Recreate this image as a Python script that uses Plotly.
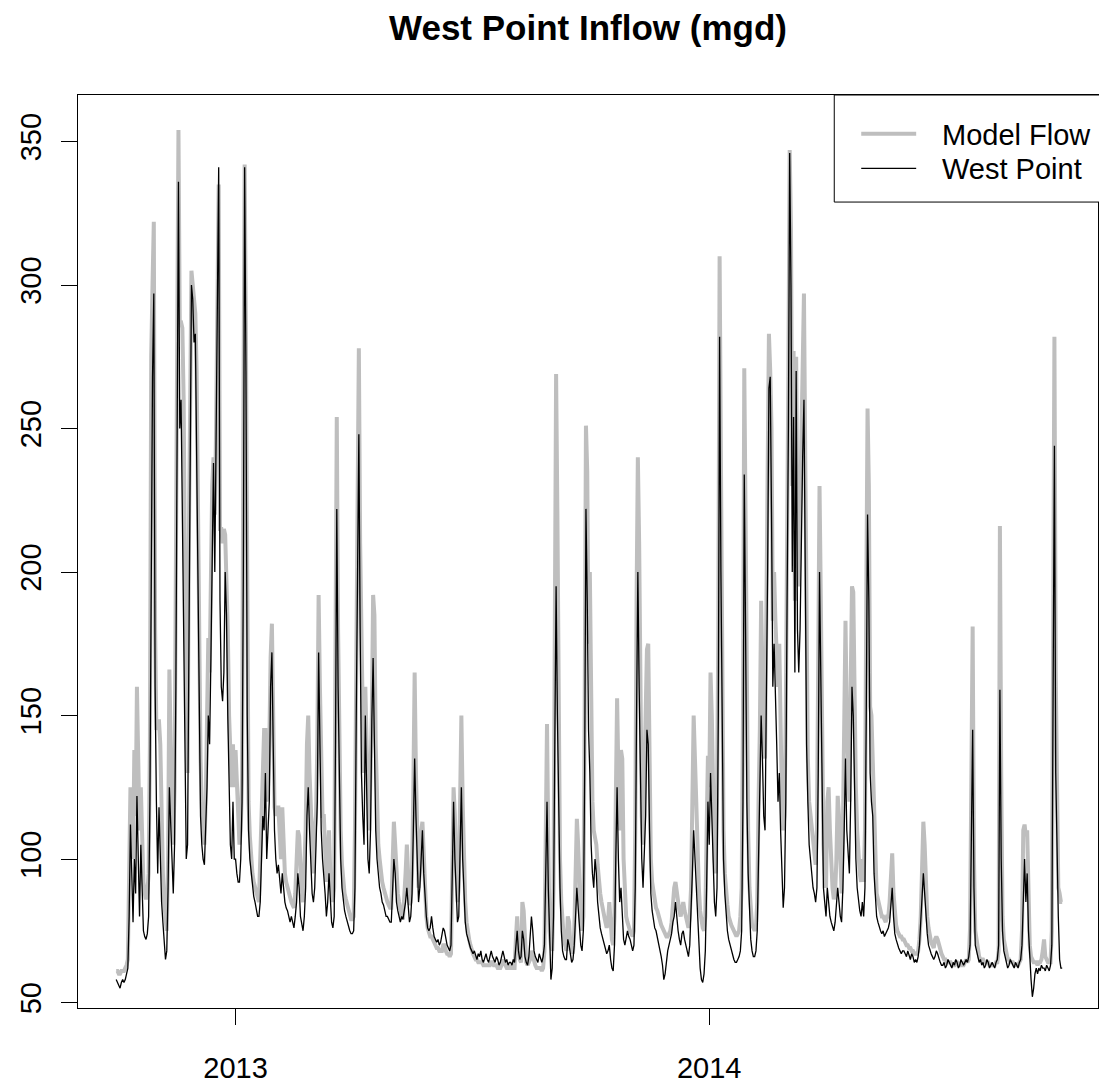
import pandas as pd
import plotly.graph_objects as go

# ---------------- data (daily, water years 2013-2014) ----------------
start_date = "2012-10-01"

model_flow = [
    # Oct 2012
    61,61,60,60,61,61,61,62,63,65, 95,125,110,100,138,115,160,130,110,125, 105,92,88,86,88,95,140,275,300,322, 180,
    # Nov 2012
    145,148,148,140,110,95,85,78,75,100, 166,140,118,105,125,190,275,354,287,287, 285,260,200,150,130,210,280,305,300,295,
    # Dec 2012
    290,270,220,170,135,118,110,105,120,145, 177,165,200,230,240,220,250,300,335,215, 215,210,215,213,200,180,150,135,125,140, 125,
    # Jan 2013
    138,125,110,105,110,128,250,342,280,170, 120,108,100,95,92,90,88,86,85,100, 120,130,145,145,120,125,140,170,182,150, 118,
    # Feb 2013
    115,118,118,110,100,118,100,95,92,90, 88,86,85,84,83,88,100,110,108,95, 88,85,95,110,140,150,130,115,
    # Mar 2013
    100,95,110,115,140,192,160,125,115,115, 100,92,100,110,95,88,85,90,170,254, 180,130,110,98,92,88,86,84,82,80, 79,
    # Apr 2013
    79,80,110,185,205,278,210,165,150,130, 160,140,120,110,130,150,192,185,140,120, 105,100,95,92,90,88,86,85,84,83,
    # May 2013
    83,100,113,105,92,88,85,82,80,79, 85,95,105,92,84,85,95,125,165,130, 105,90,95,110,113,100,88,80,76,74, 73,
    # Jun 2013
    73,72,71,70,69,69,68,68,68,70, 70,68,67,67,66,67,100,125,115,95, 85,90,135,150,120,95,85,78,74,72,
    # Jul 2013
    70,68,67,66,65,65,64,64,64,64, 63,63,63,63,63,63,64,64,63,63, 63,62,62,62,63,65,64,63,62,62, 62,
    # Aug 2013
    63,62,62,62,72,80,70,65,64,85, 82,68,64,63,64,65,68,66,64,63, 62,62,62,62,61,62,68,110,147,105, 75,
    # Sep 2013
    70,68,90,200,269,220,130,100,85,78, 72,70,68,80,78,70,68,67,75,100, 114,105,85,78,75,80,150,251,235,175,
    # Oct 2013
    200,140,120,110,108,105,98,92,88,85, 82,80,78,76,78,85,75,72,70,80, 120,156,130,110,138,135,100,85,80,78, 76,
    # Nov 2013
    75,74,73,75,110,190,240,210,140,115, 105,130,140,173,175,140,100,92,88,85, 83,82,80,78,77,76,75,74,73,73,
    # Dec 2013
    74,75,78,85,90,92,88,84,82,80, 82,85,82,80,78,76,80,90,120,150, 135,115,100,90,82,78,76,75,80,110, 136,
    # Jan 2014
    125,165,150,120,100,95,120,180,310,240, 150,110,95,88,84,80,78,77,76,75, 74,73,74,75,80,90,150,271,220,140, 110,
    # Feb 2014
    90,80,77,76,75,76,85,120,145,190, 160,140,135,180,240,283,270,250,183,200, 183,170,160,175,140,120,110,115,
    # Mar 2014
    150,200,270,347,320,230,277,190,275,210, 195,220,250,280,297,240,170,135,120,115, 110,105,100,98,110,160,230,190,125,105, 95,
    # Apr 2014
    90,120,125,110,95,90,86,88,100,122, 115,95,88,110,150,183,150,130,120,160, 195,193,150,125,110,100,95,92,100,92,
    # May 2014
    110,190,257,230,153,150,135,110,95,88, 86,84,82,80,80,79,78,80,80,85, 95,102,88,80,77,75,74,73,73,72, 72,
    # Jun 2014
    71,70,70,69,69,68,68,67,67,67, 68,72,80,95,113,105,90,80,76,73, 71,70,69,72,73,72,70,68,67,66,
    # Jul 2014
    65,65,64,64,64,64,63,63,63,64, 64,63,63,64,63,63,64,65,64,65, 76,120,181,100,75,72,68,66,65,65, 65,
    # Aug 2014
    64,64,64,64,63,63,63,63,63,64, 64,68,216,130,80,72,70,67,65,65, 64,64,64,63,63,63,63,64,65,75, 110,
    # Sep 2014
    112,108,110,85,70,66,65,64,64,64, 63,64,64,65,68,72,66,65,64,64, 64,75,190,282,165,130,90,88,85,85,
]

west_point = [
    # Oct 2012
    58,57,56,55,57,58,57,58,60,62, 80,112,95,78,100,88,122,95,80,105, 90,75,73,72,74,80,120,200,268,297, 160,
    # Nov 2012
    120,95,118,100,85,78,72,65,68,90, 125,110,95,88,105,160,250,336,250,260, 220,175,130,100,105,160,240,300,295,280,
    # Dec 2012
    283,240,180,140,115,105,100,98,110,125, 150,140,170,215,238,200,240,280,341,190, 160,155,165,200,185,150,120,105,100,120, 100,
    # Jan 2013
    100,95,92,92,100,120,200,341,270,150, 110,100,95,90,87,85,82,80,80,85, 100,115,110,130,100,110,120,160,172,140, 110,
    # Feb 2013
    100,95,98,92,88,95,88,85,83,82, 80,78,80,78,76,80,85,95,90,80, 78,75,80,90,115,125,110,95,
    # Mar 2013
    88,85,90,105,120,172,140,110,100,95, 88,80,85,95,85,78,76,80,140,222, 160,120,100,90,85,82,80,78,76,75, 74,
    # Apr 2013
    74,75,90,150,200,248,180,130,115,105, 150,120,100,95,110,148,170,140,110,100, 95,90,88,85,84,82,80,80,79,78,
    # May 2013
    78,90,100,95,85,82,80,78,80,79, 82,85,90,82,78,80,88,110,135,115, 95,85,90,100,110,95,85,80,76,75, 76,
    # Jun 2013
    80,76,73,72,71,72,70,71,73,76, 75,72,70,69,68,70,95,120,100,85, 78,80,110,125,100,85,78,74,72,70,
    # Jul 2013
    69,68,67,68,66,65,67,66,68,65, 64,66,67,65,64,66,68,66,65,64, 66,65,63,64,66,68,66,64,65,63, 64,
    # Aug 2013
    64,63,65,64,70,75,68,65,66,75, 72,66,64,63,66,72,80,75,68,66, 65,64,67,65,64,66,70,95,120,90, 70,
    # Sep 2013
    58,62,80,140,195,150,110,90,75,68, 66,65,65,72,70,66,64,65,70,80, 90,83,74,70,68,75,130,222,190,145,
    # Oct 2013
    130,105,95,90,100,95,85,80,76,74, 72,70,68,67,68,70,65,62,61,70, 100,125,100,85,90,80,72,70,72,75, 73,
    # Nov 2013
    72,70,68,70,90,150,200,160,120,100, 90,100,115,145,140,110,88,82,78,76, 75,73,70,68,66,63,58,60,65,68,
    # Dec 2013
    70,72,74,78,80,85,78,75,72,70, 74,75,72,70,68,66,70,80,95,110, 100,90,80,70,62,58,57,60,68,90, 120,
    # Jan 2014
    105,130,115,95,85,80,90,150,282,200, 130,100,88,80,75,72,70,68,66,65, 64,64,65,66,68,75,120,234,180,120, 95,
    # Feb 2014
    80,72,68,66,66,68,75,100,120,150, 135,115,110,150,200,264,268,220,160,175, 160,140,120,130,110,95,83,90,
    # Mar 2014
    120,190,250,346,300,200,254,165,270,180, 165,180,220,240,260,200,140,120,105,100, 95,90,88,85,90,130,200,160,110,90, 85,
    # Apr 2014
    80,90,85,80,78,76,75,78,85,90, 85,80,78,90,110,135,110,100,95,120, 160,150,120,100,90,85,82,80,85,80,
    # May 2014
    90,150,220,190,130,120,115,95,85,80, 78,76,75,74,75,73,74,75,76,78, 85,90,80,74,72,70,69,68,67,68, 68,
    # Jun 2014
    67,66,68,66,65,67,66,64,65,64, 66,70,78,85,95,88,80,74,70,68, 67,66,65,66,68,67,65,64,63,63,
    # Jul 2014
    64,62,63,65,64,63,62,64,63,65, 64,62,63,65,64,63,64,65,64,66, 70,100,145,90,70,68,66,64,65,63, 64,
    # Aug 2014
    62,63,65,64,62,63,64,63,62,64, 65,70,159,100,75,68,66,64,62,63, 65,64,63,62,64,63,62,64,65,70, 90,
    # Sep 2014
    100,85,95,75,65,58,52,55,60,62, 60,62,61,63,62,62,61,63,62,61, 63,70,160,244,130,100,80,65,62,62,
]

year_ticks = ["2013-01-01", "2014-01-01"]
year_labels = ["2013", "2014"]
flow_ticks = [50, 100, 150, 200, 250, 300, 350]
series_names = ["Model Flow", "West Point"]
series_colors = ["#BEBEBE", "black"]
series_widths = [4, 1.3]

# ---------------- figure ----------------
W, H = 1099, 1084
ML, MR, MT, MB = 78, 0, 95, 68
PW, PH = W - ML - MR, H - MT - MB

def px_x(x):
    return (x - ML) / PW

def px_y(y):
    return (H - MB - y) / PH

dates_model = pd.date_range(start_date, periods=len(model_flow), freq="D")
dates_wp = pd.date_range(start_date, periods=len(west_point), freq="D")

fig = go.Figure()
fig.add_trace(go.Scatter(x=dates_model, y=model_flow, mode="lines", name=series_names[0],
                         line=dict(color=series_colors[0], width=series_widths[0])))
fig.add_trace(go.Scatter(x=dates_wp, y=west_point, mode="lines", name=series_names[1],
                         line=dict(color=series_colors[1], width=series_widths[1])))

axis_common = dict(showline=True, linecolor="black", linewidth=1, mirror=True,
                   ticks="outside", ticklen=16, tickwidth=1, tickcolor="black",
                   showgrid=False, zeroline=False,
                   tickfont=dict(size=29, color="black"))

# legend box drawn in R style (box, line samples, labels)
shapes = [dict(type="rect", xref="paper", yref="paper",
               x0=px_x(835), x1=px_x(1110), y0=px_y(203), y1=px_y(95),
               line=dict(color="black", width=1), fillcolor="white", layer="above")]
annotations = []
for k, (nm, col, wd) in enumerate(zip(series_names, series_colors, series_widths)):
    yy = 134 + 35 * k
    shapes.append(dict(type="line", xref="paper", yref="paper",
                       x0=px_x(862), x1=px_x(917), y0=px_y(yy), y1=px_y(yy),
                       line=dict(color=col, width=wd), layer="above"))
    annotations.append(dict(text=nm, xref="paper", yref="paper", x=px_x(941), y=px_y(yy + 1),
                            xanchor="left", yanchor="middle", showarrow=False,
                            font=dict(size=29, color="black")))

fig.update_layout(
    width=W, height=H,
    margin=dict(l=ML, r=MR, t=MT, b=MB, pad=0),
    paper_bgcolor="white", plot_bgcolor="white",
    font=dict(family="Liberation Sans, Arial, sans-serif", size=29, color="black"),
    title=dict(text="<b>West Point Inflow (mgd)</b>", x=0.5, xref="paper", xanchor="center",
               y=1 - 28 / H, yref="container", yanchor="middle",
               font=dict(size=35, color="black")),
    xaxis=dict(type="date", range=["2012-09-01 14:00", "2014-10-27 14:00"],
               tickvals=year_ticks, ticktext=year_labels, ticklabelstandoff=18, **axis_common),
    yaxis=dict(range=[48.1, 366.2], tickvals=flow_ticks, tickangle=-90,
               ticklabelstandoff=8, **axis_common),
    showlegend=False,
    shapes=shapes,
    annotations=annotations,
)

fig.write_html("out.html", config={"displayModeBar": False},
               post_script="document.body.style.margin='0';document.body.style.overflow='hidden';")
